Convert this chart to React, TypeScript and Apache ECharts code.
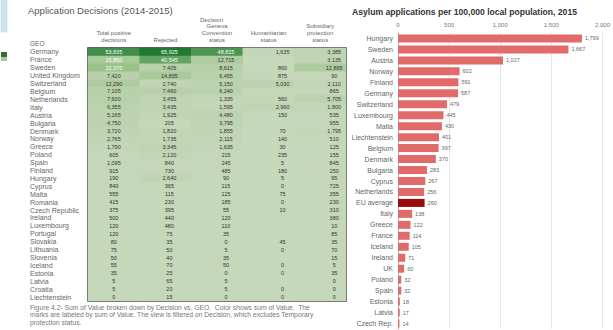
import React, { useEffect, useRef } from "react";
import * as echarts from "echarts";

// ---------- Left panel: Application Decisions (2014-2015) ----------
const geo = [
  "Germany", "France", "Sweden", "United Kingdom", "Switzerland", "Belgium",
  "Netherlands", "Italy", "Austria", "Bulgaria", "Denmark", "Norway", "Greece",
  "Poland", "Spain", "Finland", "Hungary", "Cyprus", "Malta", "Romania",
  "Czech Republic", "Ireland", "Luxembourg", "Portugal", "Slovakia", "Lithuania",
  "Slovenia", "Iceland", "Estonia", "Latvia", "Croatia", "Liechtenstein",
];
const decisionCols = [
  "Total positive\ndecisions",
  "Rejected",
  "Geneva\nConvention\nstatus",
  "Humanitarian\nstatus",
  "Subsidiary\nprotection\nstatus",
];
const totalPositive = [53835, 15850, 22370, 7420, 12290, 7105, 7600, 6355, 5165, 4750, 3720, 2765, 1790, 605, 1095, 915, 190, 840, 555, 415, 375, 500, 120, 120, 80, 75, 50, 55, 35, 5, 5, 0];
const rejected = [65925, 40545, 7405, 14835, 2740, 7460, 3455, 3435, 1925, 205, 1820, 1735, 3345, 2120, 840, 730, 2640, 365, 115, 230, 395, 440, 480, 75, 35, 50, 40, 70, 25, 65, 20, 15];
const geneva = [48815, 12715, 8615, 6455, 5150, 6240, 1335, 1595, 4480, 3795, 1855, 2115, 1635, 215, 245, 485, 90, 115, 125, 185, 55, 120, 110, 35, 0, 5, 35, 50, 0, 5, 5, 0];
const humanitarian: (number | null)[] = [1635, null, 860, 875, 5030, null, 560, 2960, 150, null, 70, 140, 30, 235, 5, 180, 5, 0, 75, 0, 10, null, null, null, 45, 0, null, 0, 0, null, 0, 0];
const subsidiary = [3385, 3135, 12895, 90, 2110, 865, 5705, 1800, 535, 955, 1795, 510, 125, 155, 845, 250, 95, 725, 355, 230, 310, 380, 10, 85, 35, 70, 15, 5, 35, 0, 0, 0];

const captionLines = [
  "Figure 4.2- Sum of Value broken down by Decision vs. GEO.  Color shows sum of Value.  The",
  "marks are labeled by sum of Value. The view is filtered on Decision, which excludes Temporary",
  "protection status.",
];

// ---------- Right panel: Asylum applications per 100,000 ----------
const barCountries = [
  "Hungary", "Sweden", "Austria", "Norway", "Finland", "Germany", "Switzerland",
  "Luxembourg", "Malta", "Liechtenstein", "Belgium", "Denmark", "Bulgaria",
  "Cyprus", "Netherlands", "EU average", "Italy", "Greece", "France", "Iceland",
  "Ireland", "UK", "Poland", "Spain", "Estonia", "Latvia", "Czech Rep.",
];
const barValues = [1799, 1667, 1027, 602, 591, 587, 479, 445, 430, 401, 397, 370, 283, 267, 256, 260, 138, 122, 114, 105, 71, 60, 32, 32, 18, 17, 14];
const xTicks = [0, 500, 1000, 1500, 2000];

const FONT = "'Liberation Sans', Arial, sans-serif";
const fmt = (v: number) => v.toLocaleString("en-US");

export default function App() {
  const ref = useRef<HTMLDivElement>(null);

  useEffect(() => {
    if (!ref.current) return;
    const chart = echarts.init(ref.current, undefined, { renderer: "svg" });

    const columns = [totalPositive, rejected, geneva, humanitarian, subsidiary];
    const labelOffsets = [0, 4, 9, 14, 14];
    const heatData: any[] = [];
    columns.forEach((col, c) => {
      col.forEach((v, r) => {
        if (v === null || v === undefined) return;
        heatData.push({
          value: [c, r, v],
          label: {
            offset: [labelOffsets[c], 0],
            color: v > 15000 ? "#ffffff" : "#333333",
          },
        });
      });
    });

    const option: any = {
      animation: false,
      textStyle: { fontFamily: FONT },
      title: [
        {
          text: "Application Decisions (2014-2015)",
          left: 28,
          top: 5,
          padding: 0,
          textStyle: { fontSize: 9.5, fontWeight: "normal", color: "#555", fontFamily: FONT },
        },
        {
          text: "Asylum applications per 100,000 local population, 2015",
          left: 352,
          top: 7,
          padding: 0,
          textStyle: { fontSize: 8.6, fontWeight: "bold", color: "#333", fontFamily: FONT },
        },
      ],
      grid: [
        {
          left: 88,
          top: 48,
          width: 258,
          height: 253,
          show: true,
          backgroundColor: "#c6d8ba",
          borderColor: "#2b2b2b",
          borderWidth: 1.5,
        },
        { left: 398, top: 33, right: 1, height: 296, show: false },
      ],
      xAxis: [
        {
          gridIndex: 0,
          type: "category",
          position: "top",
          data: decisionCols,
          axisLine: { show: false },
          axisTick: { show: false },
          splitLine: { show: false },
          axisLabel: {
            interval: 0,
            fontSize: 6,
            lineHeight: 7,
            color: "#666",
            margin: 5,
            fontFamily: FONT,
          },
        },
        {
          gridIndex: 1,
          type: "value",
          position: "top",
          min: 0,
          max: 2000,
          interval: 500,
          axisLine: { show: false },
          axisTick: { show: false },
          splitLine: { show: true, lineStyle: { color: "#e6e6e6", width: 1 } },
          axisLabel: {
            fontSize: 6,
            color: "#777",
            margin: 5,
            fontFamily: FONT,
            formatter: (v: number) => (xTicks.includes(v) ? fmt(v) : ""),
          },
        },
      ],
      yAxis: [
        {
          gridIndex: 0,
          type: "category",
          inverse: true,
          data: geo,
          axisLine: { show: false },
          axisTick: { show: false },
          splitLine: { show: false },
          axisLabel: {
            interval: 0,
            align: "left",
            margin: 58,
            fontSize: 7,
            color: "#666",
            fontFamily: FONT,
          },
        },
        {
          gridIndex: 1,
          type: "category",
          inverse: true,
          data: barCountries,
          axisLine: { show: true, lineStyle: { color: "#b5b5b5" } },
          axisTick: { show: false },
          axisLabel: {
            interval: 0,
            margin: 5,
            fontSize: 7,
            color: "#666",
            fontFamily: FONT,
          },
        },
      ],
      visualMap: {
        type: "continuous",
        show: false,
        seriesIndex: 0,
        dimension: 2,
        min: 0,
        max: 65925,
        inRange: { color: ["#c6d8ba", "#9cc38c", "#5a9e5c", "#1f7a33"] },
      },
      series: [
        {
          type: "heatmap",
          xAxisIndex: 0,
          yAxisIndex: 0,
          data: heatData,
          itemStyle: { borderWidth: 0 },
          label: {
            show: true,
            fontSize: 5.5,
            fontFamily: FONT,
            formatter: (p: any) => fmt(p.value[2]),
          },
          emphasis: { disabled: true },
        },
        {
          type: "bar",
          xAxisIndex: 1,
          yAxisIndex: 1,
          barWidth: 8,
          data: barValues.map((v, i) => ({
            value: v,
            itemStyle: { color: barCountries[i] === "EU average" ? "#990b0b" : "#e16a6a" },
          })),
          label: {
            show: true,
            position: "right",
            distance: 3,
            fontSize: 5.5,
            color: "#666",
            fontFamily: FONT,
            formatter: (p: any) => fmt(p.value),
          },
        },
      ],
      graphic: [
        {
          type: "text",
          left: 200,
          top: 17,
          style: { text: "Decision", fontSize: 6, fill: "#666", fontFamily: FONT },
        },
        {
          type: "text",
          left: 30,
          top: 40,
          style: { text: "GEO", fontSize: 6.5, fill: "#666", fontFamily: FONT },
        },
        {
          type: "text",
          left: 30,
          top: 304,
          style: {
            text: captionLines.join("\n"),
            fontSize: 6.75,
            lineHeight: 7.3,
            fill: "#777",
            fontFamily: FONT,
          },
        },
        { type: "rect", shape: { x: 1, y: 0, width: 6, height: 32 }, style: { fill: "#cfe3ee", stroke: "#b3d2e4", lineWidth: 0.5 } },
        { type: "rect", shape: { x: 1, y: 52, width: 6, height: 5 }, style: { fill: "#2f6f3a" } },
        { type: "rect", shape: { x: 1, y: 57, width: 6, height: 4 }, style: { fill: "#a6c79a" } },
      ],
    };

    chart.setOption(option);
    return () => chart.dispose();
  }, []);

  return (
    <div
      ref={ref}
      style={{ position: "absolute", left: 0, top: 0, width: 613, height: 330, background: "#fff" }}
    />
  );
}
